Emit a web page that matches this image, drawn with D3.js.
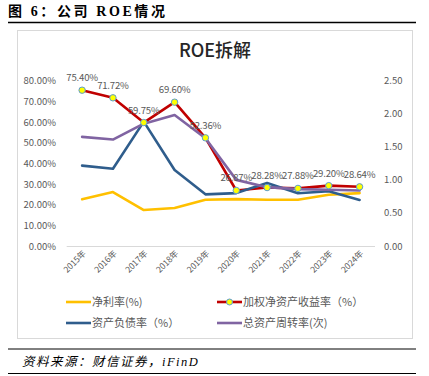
<!DOCTYPE html>
<html><head><meta charset="utf-8">
<script src="https://cdn.jsdelivr.net/npm/d3@7"></script>
<style>body{margin:0;background:#fff;}svg{display:block;}</style>
</head><body>
<script>
const years = ["2015年","2016年","2017年","2018年","2019年","2020年","2021年","2022年","2023年","2024年"];
const netMargin = [22.6, 26.1, 17.4, 18.4, 22.4, 22.7, 22.4, 22.4, 24.8, 25.6];
const roe = [75.40, 71.72, 59.75, 69.60, 52.36, 26.87, 28.28, 27.88, 29.20, 28.64];
const debtRatio = [38.9, 37.4, 60.2, 36.8, 25.0, 25.6, 30.5, 25.5, 26.5, 22.3];
const turnover = [1.65, 1.61, 1.85, 1.98, 1.63, 1.00, 0.89, 0.86, 0.85, 0.84];
const leftTicks = [0,10,20,30,40,50,60,70,80];
const rightTicks = [0,0.5,1,1.5,2,2.5];

const W=429,H=376;
const svg=d3.select("body").append("svg").attr("width",W).attr("height",H);
const sans='"Noto Sans CJK SC","Noto Sans",sans-serif';
const serif='"Liberation Serif","Noto Sans CJK SC",serif';

// header
svg.append("text").attr("x",8).attr("y",16).attr("font-family",serif).attr("font-weight","bold")
  .attr("font-size",14).attr("letter-spacing",2.6).attr("fill","#000").text("图 6：公司 ROE情况");
svg.append("line").attr("x1",8).attr("x2",416).attr("y1",22.5).attr("y2",22.5).attr("stroke","#000").attr("stroke-width",1.5);
// frame
svg.append("rect").attr("x",17.5).attr("y",30.5).attr("width",395).attr("height",308).attr("fill","none").attr("stroke","#d9d9d9");
svg.append("text").attr("x",215).attr("y",57).attr("text-anchor","middle").attr("font-family",sans)
  .attr("font-size",18).attr("font-weight",500).attr("fill","#262626").text("ROE拆解");

const x=d3.scalePoint().domain(years).range([66.7,375]).padding(0.5);
const yL=d3.scaleLinear().domain([0,80]).range([246,80.7]);
const yR=d3.scaleLinear().domain([0,2.5]).range([246,80.7]);

// left axis
const gL=svg.append("g").attr("transform","translate(62,0)")
  .call(d3.axisLeft(yL).tickValues(leftTicks).tickSize(0).tickPadding(6).tickFormat(d=>d.toFixed(2)+"%"));
gL.select(".domain").remove();
gL.selectAll("text").attr("font-family",sans).attr("font-size",9.5).attr("fill","#595959");
// right axis
const gR=svg.append("g").attr("transform","translate(378,0)")
  .call(d3.axisRight(yR).tickValues(rightTicks).tickSize(0).tickPadding(6).tickFormat(d=>d.toFixed(2)));
gR.select(".domain").remove();
gR.selectAll("text").attr("font-family",sans).attr("font-size",9.5).attr("fill","#595959");
// bottom axis
const gB=svg.append("g").attr("transform","translate(0,246)")
  .call(d3.axisBottom(x).tickSize(0).tickPadding(0));
gB.select(".domain").attr("stroke","#d9d9d9").attr("d","M66.7,0.5H375");
gB.selectAll("text").attr("font-family",sans).attr("font-size",8.5).attr("fill","#595959")
  .attr("text-anchor","end").attr("dy",0).attr("transform","translate(4,8) rotate(-45)");

function drawLine(data,scale,color,w){
  svg.append("path").datum(data).attr("fill","none").attr("stroke",color).attr("stroke-width",w)
    .attr("stroke-linejoin","round").attr("stroke-linecap","round")
    .attr("d",d3.line().x((d,i)=>x(years[i])).y(d=>scale(d)));
}
drawLine(netMargin,yL,"#FFC000",2.6);
drawLine(roe,yL,"#C00000",2.6);
drawLine(debtRatio,yL,"#2F5D8C",2.6);
drawLine(turnover,yR,"#8064A2",2.6);

svg.selectAll(".mk").data(roe).enter().append("circle").attr("class","mk")
  .attr("cx",(d,i)=>x(years[i])).attr("cy",d=>yL(d)).attr("r",3.2)
  .attr("fill","#FFFF00").attr("stroke","#5B9BD5").attr("stroke-width",1);
svg.selectAll(".lbl").data(roe).enter().append("text").attr("class","lbl")
  .attr("x",(d,i)=>x(years[i])).attr("y",d=>yL(d)-9).attr("text-anchor","middle")
  .attr("font-family",sans).attr("font-size",9.6).attr("letter-spacing",-0.2).attr("fill","#595959").text(d=>d.toFixed(2)+"%");

// legend
const legend=[
  {name:"净利率(%)",color:"#FFC000",x:66,y:302,marker:false},
  {name:"加权净资产收益率（%）",color:"#C00000",x:217,y:302,marker:true},
  {name:"资产负债率（%）",color:"#2F5D8C",x:66,y:323,marker:false},
  {name:"总资产周转率(次)",color:"#8064A2",x:217,y:323,marker:false}];
legend.forEach(l=>{
  svg.append("line").attr("x1",l.x).attr("x2",l.x+25).attr("y1",l.y).attr("y2",l.y).attr("stroke",l.color).attr("stroke-width",2.6);
  if(l.marker) svg.append("circle").attr("cx",l.x+12.5).attr("cy",l.y).attr("r",3).attr("fill","#FFFF00").attr("stroke","#5B9BD5");
  svg.append("text").attr("x",l.x+26).attr("y",l.y+4).attr("font-family",sans).attr("font-size",11).attr("fill","#595959").text(l.name);
});

// footer
svg.append("line").attr("x1",8).attr("x2",416).attr("y1",349).attr("y2",349).attr("stroke","#000").attr("stroke-width",1);
svg.append("text").attr("x",22).attr("y",366).attr("font-family",serif).attr("font-style","italic")
  .attr("font-size",12.5).attr("letter-spacing",1.5).attr("fill","#000").text("资料来源：财信证券，iFinD");
svg.append("line").attr("x1",8).attr("x2",416).attr("y1",373.5).attr("y2",373.5).attr("stroke","#000").attr("stroke-width",1);
</script>
</body></html>
